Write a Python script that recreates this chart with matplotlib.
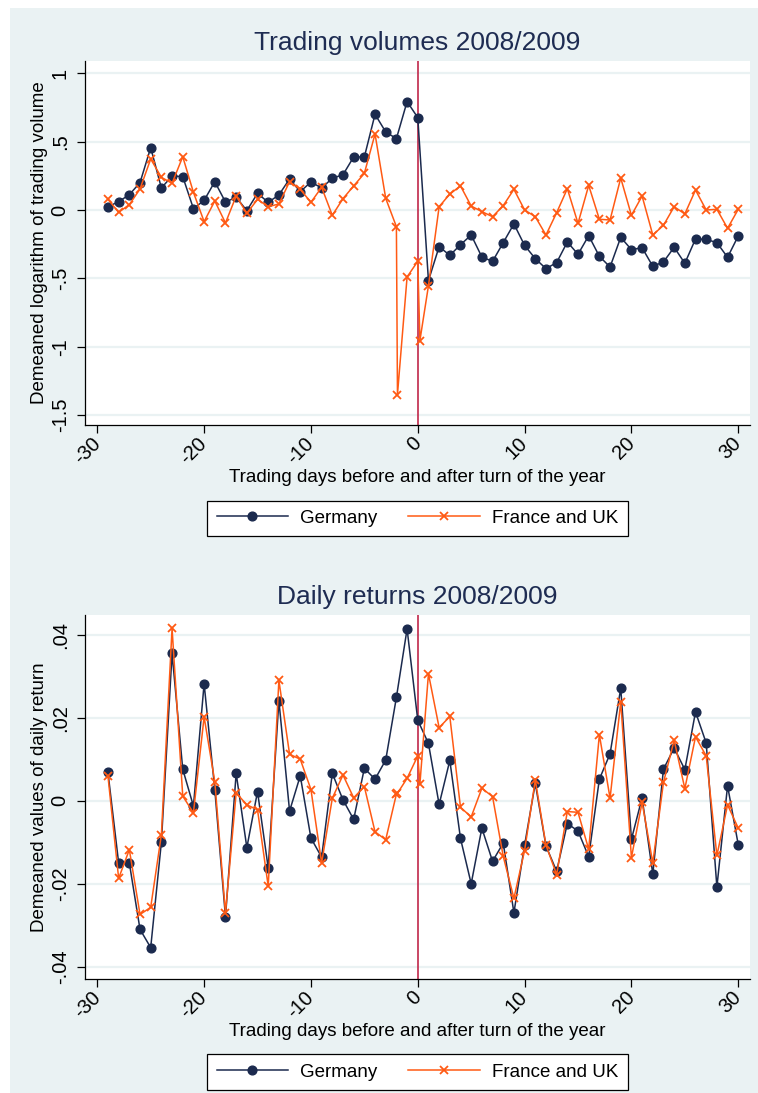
import matplotlib
matplotlib.use("Agg")
import matplotlib.pyplot as plt
from matplotlib.patches import Rectangle

plt.rcParams["font.family"] = ["Liberation Sans", "DejaVu Sans"]

# trading days (Germany)
days = list(range(-29, 31))
# France and UK has a couple of doubled days around the turn of the year
days_fu = list(range(-29, -1)) + [-1.9, -1, 0, 0.2] + list(range(1, 31))

vol_de = [0.024, 0.061, 0.112, 0.20, 0.456, 0.161, 0.249, 0.244, 0.01, 0.07,
          0.207, 0.058, 0.093, -0.005, 0.122, 0.056, 0.11, 0.227, 0.134, 0.205,
          0.161, 0.232, 0.258, 0.388, 0.388, 0.70, 0.571, 0.522, 0.793, 0.676,
          -0.517, -0.268, -0.332, -0.254, -0.183, -0.344, -0.376, -0.239, -0.102, -0.259,
          -0.356, -0.429, -0.385, -0.234, -0.324, -0.188, -0.339, -0.417, -0.2, -0.29,
          -0.276, -0.412, -0.38, -0.273, -0.39, -0.212, -0.215, -0.239, -0.346, -0.19]

vol_fu = [0.078, -0.017, 0.039, 0.154, 0.373, 0.239, 0.195, 0.39, 0.129, -0.085,
          0.066, -0.095, 0.102, -0.024, 0.078, 0.024, 0.044, 0.207, 0.151, 0.056,
          0.166, -0.039, 0.083, 0.176, 0.268, 0.556, 0.085, -0.122,
          -1.35, -0.49, -0.375, -0.955,
          -0.554, 0.024, 0.117, 0.176, 0.029, -0.012, -0.049, 0.032, 0.151, 0.0,
          -0.049, -0.183, -0.02, 0.156, -0.098, 0.18, -0.068, -0.073, 0.234, -0.039,
          0.102, -0.183, -0.112, 0.024, -0.029, 0.146, 0.0, 0.005, -0.134, 0.005]

ret_de = [0.0068, -0.015, -0.015, -0.031, -0.0354, -0.010, 0.0355, 0.0076, -0.0013, 0.0282,
          0.0027, -0.028, 0.0066, -0.0113, 0.0022, -0.0162, 0.0241, -0.0025, 0.006, -0.009,
          -0.0136, 0.0066, 0.0002, -0.0045, 0.0078, 0.0052, 0.0098, 0.0249, 0.0414, 0.0194,
          0.0138, -0.0009, 0.0097, -0.0091, -0.020, -0.0066, -0.0146, -0.0102, -0.027, -0.0107,
          0.0042, -0.0109, -0.017, -0.0055, -0.0073, -0.0135, 0.0052, 0.0113, 0.0271, -0.0093,
          0.0007, -0.0177, 0.0076, 0.0127, 0.0075, 0.0214, 0.0139, -0.0208, 0.0036, -0.0106]

ret_fu = [0.0059, -0.0187, -0.0118, -0.0274, -0.0257, -0.0082, 0.0415, 0.0011, -0.0029, 0.0202,
          0.0046, -0.027, 0.0019, -0.001, -0.0022, -0.0206, 0.029, 0.0112, 0.010, 0.0027,
          -0.015, 0.0006, 0.0062, 0.0007, 0.0034, -0.0075, -0.0094, 0.0016,
          0.0018, 0.0054, 0.0108, 0.004,
          0.0306, 0.0176, 0.0203, -0.0016, -0.0039, 0.003, 0.001, -0.0134, -0.0235, -0.012,
          0.005, -0.0107, -0.0178, -0.0026, -0.0028, -0.0117, 0.0159, 0.0006, 0.0238, -0.0137,
          -0.0004, -0.015, 0.0044, 0.0146, 0.0029, 0.0154, 0.0108, -0.0132, -0.001, -0.0066]

xticks = [-30, -20, -10, 0, 10, 20, 30]
vol_ticks = [1, 0.5, 0, -0.5, -1, -1.5]
vol_labels = ["1", ".5", "0", "-.5", "-1", "-1.5"]
ret_ticks = [0.04, 0.02, 0, -0.02, -0.04]
ret_labels = [".04", ".02", "0", "-.02", "-.04"]

W, H = 758, 1093
navy = "#1b2a4e"
orng = "#ff5a14"
bg = "#eaf2f3"

fig = plt.figure(figsize=(W / 100, H / 100), dpi=100, facecolor="white")
fig.patches.append(Rectangle((10 / W, 0), 1, 1 - 8 / H, transform=fig.transFigure,
                             facecolor=bg, edgecolor="none", zorder=-5))


def fx(px):
    return px / W


def fy(py):
    return 1 - py / H


def panel(top, bottom, title, title_y, ylabel, xs1, ys1, xs2, ys2, yticks, ylabels, ylim,
          xlabel_y, legend_y):
    ax = fig.add_axes([fx(85), fy(bottom), fx(750) - fx(85), fy(top) - fy(bottom)])
    ax.set_facecolor("white")
    ax.plot(xs1, ys1, color=navy, lw=1.1, marker="o", ms=6.3, mec=navy, mfc=navy,
            label="Germany", zorder=3)
    ax.plot(xs2, ys2, color=orng, lw=1.1, marker="x", ms=6, mew=1.3,
            label="France and UK", zorder=4)
    ax.axvline(0, color="#c0284a", lw=1.2, zorder=2)
    ax.set_xlim(-31.15, 31.1)
    ax.set_ylim(*ylim)
    ax.set_xticks(xticks)
    ax.set_xticklabels([str(t) for t in xticks])
    ax.set_yticks(yticks)
    ax.set_yticklabels(ylabels)
    ax.yaxis.grid(True, color=bg, lw=1.6, zorder=0)
    ax.set_axisbelow(True)
    for s in ["top", "right"]:
        ax.spines[s].set_visible(False)
    for s in ["left", "bottom"]:
        ax.spines[s].set_linewidth(0.9)
    ax.tick_params(axis="both", direction="out", length=6, width=0.9, labelsize=14.5, pad=5)
    for lbl in ax.get_yticklabels():
        lbl.set_rotation(90)
        lbl.set_va("center")
        lbl.set_ha("right")
    for lbl in ax.get_xticklabels():
        lbl.set_rotation(45)
        lbl.set_rotation_mode("anchor")
        lbl.set_ha("right")
        lbl.set_va("center")
    fig.text(fx(417.5), fy(title_y), title, ha="center", va="center", fontsize=19, color="#1e2c52")
    fig.text(fx(40), fy((top + bottom) / 2), ylabel, ha="center", va="center", rotation=90,
             fontsize=13.5)
    fig.text(fx(417.5), fy(xlabel_y), "Trading days before and after turn of the year",
             ha="center", va="center", fontsize=13.5)
    ax.legend(loc="center", bbox_to_anchor=(fx(417.5), fy(legend_y)), bbox_transform=fig.transFigure,
              ncol=2, frameon=True, fancybox=False, edgecolor="black", framealpha=1,
              fontsize=13.5, handlelength=3.8, handletextpad=0.65, columnspacing=1.65,
              borderpad=0.5, numpoints=1)
    ax.get_legend().get_frame().set_linewidth(0.9)
    return ax


panel(61, 425, "Trading volumes 2008/2009", 43, "Demeaned logarithm of trading volume",
      days, vol_de, days_fu, vol_fu, vol_ticks, vol_labels, (-1.573, 1.09), 478, 518.5)
panel(615, 979, "Daily returns 2008/2009", 597, "Demeaned values of daily return",
      days, ret_de, days_fu, ret_fu, ret_ticks, ret_labels, (-0.04296, 0.04475), 1031, 1072)

fig.savefig("out.png", dpi=100, facecolor="white")
